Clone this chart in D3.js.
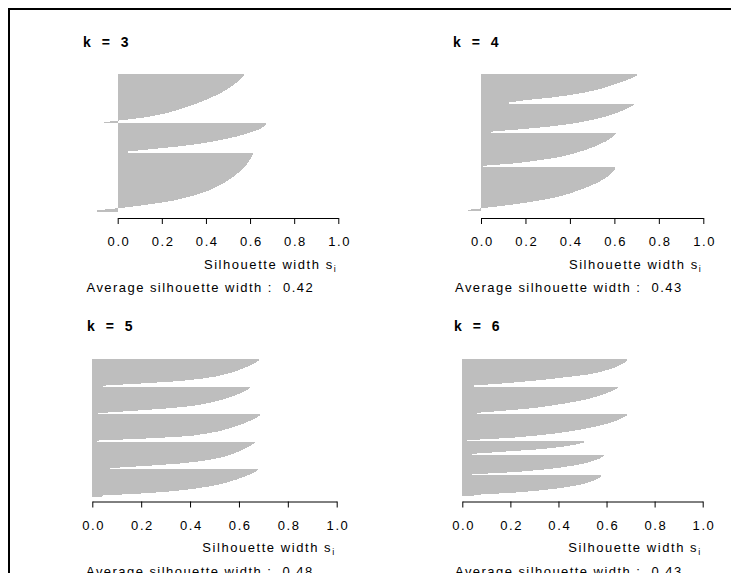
<!DOCTYPE html>
<html><head><meta charset="utf-8">
<script src="https://cdn.jsdelivr.net/npm/d3@7"></script>
<style>body{margin:0;background:#fff} svg{display:block}</style>
</head><body><svg id="c" width="731" height="573"></svg>
<script>
// ---------- data ----------
const panelTitles = ["k = 3", "k = 4", "k = 5", "k = 6"];
const avgWidths = ["0.42", "0.43", "0.48", "0.43"];
const tickValues = [0, 0.2, 0.4, 0.6, 0.8, 1.0];
const tickLabels = ["0.0", "0.2", "0.4", "0.6", "0.8", "1.0"];
const axisTitle = "Silhouette width s";
const axisTitleSub = "i";
const avgLabel = "Average silhouette width :  ";

// silhouette widths per cluster, sorted (top to bottom)
const silK3 = [
  [0.572,0.562,0.55,0.537,0.523,0.507,0.49,0.47,0.447,0.424,0.397,0.37,0.34,0.307,0.274,0.235,0.19,0.13,0.04,-0.06],
  [0.672,0.66,0.64,0.61,0.575,0.535,0.485,0.43,0.36,0.27,0.16,0.045],
  [0.615,0.609,0.602,0.595,0.587,0.578,0.568,0.556,0.543,0.529,0.514,0.497,0.478,0.458,0.435,0.41,0.38,0.345,0.30,0.255,0.19,0.11,0.02,-0.094]
];
const silK4 = [
  [0.70,0.68,0.652,0.622,0.59,0.555,0.515,0.465,0.40,0.32,0.21,0.126],
  [0.688,0.668,0.645,0.62,0.59,0.555,0.51,0.457,0.39,0.30,0.18,0.045],
  [0.606,0.594,0.578,0.561,0.538,0.514,0.485,0.452,0.415,0.375,0.315,0.24,0.15,0.01],
  [0.604,0.598,0.588,0.575,0.56,0.542,0.521,0.497,0.47,0.44,0.41,0.375,0.33,0.275,0.21,0.13,0.04,-0.057]
];
const silK5 = [
  [0.682,0.667,0.648,0.628,0.605,0.58,0.546,0.508,0.445,0.36,0.21,0.045],
  [0.645,0.631,0.613,0.59,0.565,0.535,0.50,0.458,0.40,0.30,0.17,0.025],
  [0.686,0.671,0.652,0.632,0.608,0.582,0.55,0.515,0.465,0.40,0.24,0.018],
  [0.667,0.65,0.634,0.616,0.594,0.57,0.54,0.50,0.445,0.36,0.23,0.073],
  [0.676,0.66,0.64,0.615,0.59,0.56,0.525,0.48,0.42,0.34,0.22,0.04]
];
const silK6 = [
  [0.685,0.674,0.657,0.638,0.608,0.575,0.535,0.46,0.38,0.29,0.18,0.05],
  [0.648,0.632,0.61,0.585,0.555,0.52,0.475,0.42,0.36,0.29,0.18,0.06],
  [0.686,0.67,0.652,0.625,0.595,0.555,0.51,0.455,0.39,0.305,0.2,0.02],
  [0.505,0.47,0.41,0.32,0.18,0.04],
  [0.588,0.572,0.548,0.515,0.47,0.41,0.33,0.22,0.04],
  [0.578,0.562,0.54,0.51,0.47,0.41,0.33,0.22,0.05]
];
const panelData = [silK3, silK4, silK5, silK6];

// ---------- layout ----------
const layout = [
  {x0: 117.7, x1: 338.3, top: 74.3, bottom: 211.5, axisY: 218, titleX: 83, titleY: 46.7, avgX: 86.5},
  {x0: 481,   x1: 703.3, top: 74.3, bottom: 211,   axisY: 218, titleX: 453, titleY: 46.7, avgX: 455},
  {x0: 92.3,  x1: 336.7, top: 359.3, bottom: 496.7, axisY: 501.5, titleX: 87, titleY: 330.7, avgX: 86},
  {x0: 462.3, x1: 702.7, top: 359.3, bottom: 496, axisY: 501.5, titleX: 454, titleY: 330.7, avgX: 455}
];
const FONT = "'Liberation Sans', Arial, sans-serif";

const svg = d3.select("#c");
svg.append("rect").attr("width", 731).attr("height", 573).attr("fill", "#fff");

// frame (top & left edges visible)
svg.append("path").attr("d", "M9,600 V9 H800").attr("fill", "none")
  .attr("stroke", "#000").attr("stroke-width", 2);

panelData.forEach((clusters, pi) => {
  const L = layout[pi];
  const g = svg.append("g");
  const total = d3.sum(clusters, c => c.length);
  const x = d3.scaleLinear().domain([0, 1]).range([L.x0, L.x1]);
  const y = d3.scaleLinear().domain([0, total]).range([L.top, L.bottom]);

  const area = d3.area()
    .x0(x(0))
    .x1(d => x(d.v))
    .y(d => y(d.p))
    .curve(d3.curveLinear);

  let offset = 0;
  clusters.forEach(vals => {
    const n = vals.length;
    const pts = [{p: offset, v: vals[0]}];
    vals.forEach((v, i) => pts.push({p: offset + i + 0.5, v}));
    pts.push({p: offset + n, v: vals[n - 1]});
    g.append("path").attr("d", area(pts))
      .attr("fill", "#bebebe").attr("stroke", "none")
      .attr("shape-rendering", "crispEdges");
    offset += n;
  });

  // axis
  const ax = d3.axisBottom(x).tickValues(tickValues)
    .tickFormat((d, i) => tickLabels[i]).tickSize(6).tickSizeOuter(0).tickPadding(13);
  const axg = g.append("g").attr("transform", `translate(0,${L.axisY})`).call(ax);
  axg.select(".domain").attr("stroke", "#000");
  axg.selectAll(".tick line").attr("stroke", "#000");
  axg.selectAll(".tick text").attr("fill", "#000")
    .style("font-family", FONT).style("font-size", "13px")
    .style("letter-spacing", "1.6px").attr("dx", "0.8px");

  // axis title with subscript
  const t = g.append("text").attr("x", L.x1 - 1).attr("y", L.axisY + 50.5)
    .attr("text-anchor", "end").attr("fill", "#000")
    .style("font-family", FONT).style("font-size", "13px").style("letter-spacing", "1.55px");
  t.append("tspan").text(axisTitle);
  t.append("tspan").attr("dy", 3).style("font-size", "9px").text(axisTitleSub);

  // average silhouette width
  g.append("text").attr("x", L.avgX).attr("y", L.axisY + 74.3)
    .attr("fill", "#000")
    .style("white-space", "pre")
    .style("font-family", FONT).style("font-size", "13px").style("letter-spacing", "1.45px")
    .text(avgLabel + avgWidths[pi]);

  // panel title
  g.append("text").attr("x", L.titleX).attr("y", L.titleY)
    .attr("fill", "#000").style("white-space", "pre")
    .style("font-family", FONT).style("font-size", "14px").style("font-weight", "bold")
    .style("letter-spacing", "1px").style("word-spacing", "5px")
    .text(panelTitles[pi]);
});
</script></body></html>
